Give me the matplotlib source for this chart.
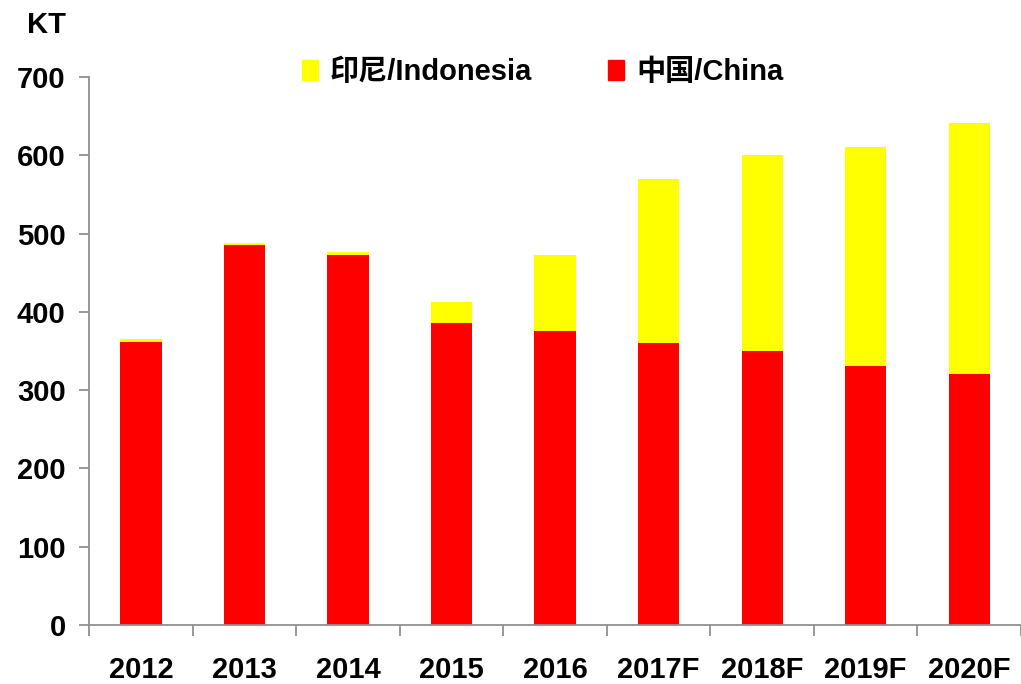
import matplotlib
matplotlib.use('Agg')
import matplotlib.pyplot as plt
from matplotlib.patches import Patch
import numpy as np

plt.rcParams['font.family'] = ['Liberation Sans', 'Noto Sans CJK SC']
plt.rcParams['font.weight'] = 'bold'

years = ['2012', '2013', '2014', '2015', '2016', '2017F', '2018F', '2019F', '2020F']
china = [362, 486, 472, 386, 375, 360, 350, 331, 321]
indonesia = [3, 2, 4, 27, 97, 210, 251, 280, 320]

fig = plt.figure(figsize=(10.21, 6.84), dpi=100)
ax = fig.add_axes([0.0875, 0.0863, 0.9125, 0.8011])

x = np.arange(len(years))
ax.bar(x, china, width=0.4, color='#ff0000')
ax.bar(x, indonesia, width=0.4, bottom=china, color='#ffff00')

ax.set_xlim(-0.5, len(years) - 0.5)
ax.set_ylim(0, 700)
ax.set_yticks(range(0, 701, 100))
ax.set_xticks(x)
ax.set_xticklabels(years)
ax.set_xticks(np.arange(-0.5, len(years), 1), minor=True)

ax.tick_params(axis='x', which='major', length=0, pad=22, labelsize=21)
ax.tick_params(axis='x', which='minor', length=8, width=1.3, color='#909090')
ax.tick_params(axis='y', length=7, width=1.3, color='#909090', pad=10, labelsize=21)

for s in ['top', 'right']:
    ax.spines[s].set_visible(False)
for s in ['left', 'bottom']:
    ax.spines[s].set_color('#909090')
    ax.spines[s].set_linewidth(1.3)

fig.text(27 / 1021, 1 - 25 / 684, 'KT', fontsize=21, fontweight='bold', va='center', ha='left')

handles = [Patch(color='#ffff00'), Patch(color='#ff0000')]
fig.legend(handles, ['印尼/Indonesia', '中国/China'], ncol=2, frameon=False,
           loc='center left', bbox_to_anchor=(276 / 1021, 1 - 72 / 684),
           fontsize=21, handlelength=0.55, handleheight=0.7, handletextpad=0.4,
           columnspacing=2.6)

fig.savefig('out.png', dpi=100)
